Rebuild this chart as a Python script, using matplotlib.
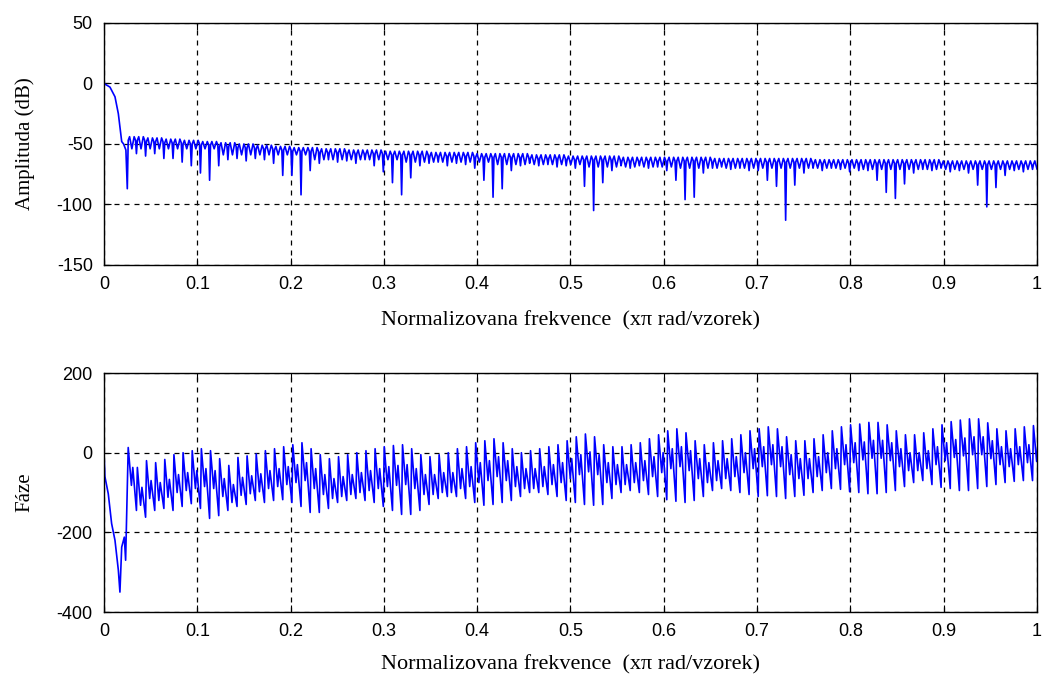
import numpy as np
import matplotlib
matplotlib.use("Agg")
import matplotlib.pyplot as plt

plt.rcParams["axes.unicode_minus"] = False

MAIN_F = [0.0, 0.0064, 0.0118, 0.0154, 0.0171, 0.019, 0.021, 0.0235]
MAIN_DB = [0, -3, -11, -25, -36, -48, -50, -55]

# sidelobes: first notch and spacing between notches
LOBE_F0 = 0.025
LOBE_STEP = 0.0098

# level of the two bumps in each sidelobe (dB)
AMP_PEAK = [
    -44, -44, -45, -45, -46, -46, -47, -47, -48, -48,
    -49, -49, -50, -50, -51, -51, -52, -52, -53, -53,
    -53, -54, -54, -54, -55, -55, -55, -55, -56, -56,
    -56, -56, -56, -57, -57, -57, -57, -57, -58, -58,
    -58, -58, -58, -58, -59, -59, -59, -59, -60, -60,
    -60, -60, -60, -60, -61, -61, -61, -61, -61, -61,
    -61, -61, -61, -61, -62, -62, -62, -62, -62, -62,
    -62, -62, -62, -62, -62, -63, -63, -63, -63, -63,
    -63, -63, -63, -63, -63, -63, -63, -63, -63, -64,
    -64, -64, -64, -64, -64, -64, -64, -64, -64, -64,
]
# depth of the notch that opens each sidelobe (dB)
AMP_NOTCH = [
    -87, -58, -60, -58, -62, -62, -65, -68, -74, -80,
    -68, -63, -62, -64, -62, -63, -66, -76, -76, -92,
    -72, -66, -63, -65, -64, -66, -63, -68, -73, -82,
    -92, -78, -68, -66, -65, -68, -66, -67, -70, -80,
    -94, -87, -72, -68, -66, -68, -67, -69, -68, -70,
    -85, -105, -82, -72, -68, -70, -68, -70, -69, -72,
    -80, -96, -94, -74, -70, -69, -71, -70, -72, -72,
    -80, -85, -113, -84, -74, -70, -72, -70, -71, -73,
    -72, -72, -80, -90, -95, -83, -74, -71, -72, -70,
    -73, -72, -74, -84, -102, -86, -76, -72, -73, -71,
]
# shallow dip between the two bumps, one value per 0.1 band
AMP_DIP = [-54, -59, -63, -65, -67, -69, -70, -70, -71, -71]

# phase in front of the first notch (degrees)
PH_MAIN_F = [0.0, 0.001, 0.0046, 0.0082, 0.0118, 0.0154, 0.0171, 0.019, 0.0218, 0.0232]
PH_MAIN_DEG = [0, -60, -103, -178, -220, -295, -350, -237, -212, -270]

# phase swing inside each sidelobe (degrees)
PH_TOP = [
    13, -37, -20, -25, -17, -5, 0, 5, 10, 5,
    -15, -32, -12, -8, -3, 5, 10, 15, 20, 25,
    10, -5, -15, -10, -5, 0, 5, 10, 15, 18,
    20, 10, -5, -10, -5, 0, 10, 15, 25, 30,
    35, 25, 10, 0, 5, 10, 15, 20, 30, 40,
    47, 40, 20, 15, 15, 20, 25, 35, 45, 55,
    60, 50, 30, 20, 25, 30, 35, 45, 55, 60,
    65, 60, 40, 30, 30, 35, 45, 55, 65, 70,
    72, 76, 76, 70, 55, 45, 45, 50, 60, 70,
    78, 82, 85, 85, 75, 60, 55, 60, 65, 68,
]
PH_BOTTOM = [
    -145, -162, -145, -140, -145, -135, -128, -140, -165, -158,
    -145, -135, -130, -120, -125, -120, -118, -125, -135, -150,
    -150, -140, -125, -120, -115, -120, -125, -135, -145, -155,
    -155, -145, -130, -115, -110, -110, -115, -125, -132, -130,
    -125, -120, -110, -100, -100, -105, -110, -120, -125, -130,
    -132, -130, -115, -100, -95, -100, -105, -110, -118, -122,
    -125, -120, -110, -95, -90, -95, -100, -105, -110, -108,
    -110, -115, -110, -107, -100, -95, -90, -92, -98, -100,
    -103, -103, -100, -95, -85, -75, -70, -80, -87, -90,
    -95, -95, -90, -85, -80, -75, -72, -70, -70, -72,
]
# small step half way through each sidelobe: how far the phase falls
# from the top before it, and how much it climbs back (per 0.1 band)
PH_MID_FALL = [95, 95, 100, 100, 95, 95, 95, 95, 90, 90]
PH_MID_RISE = [45, 45, 50, 50, 50, 50, 50, 50, 45, 45]

XTICKS = [0, 0.1, 0.2, 0.3, 0.4, 0.5, 0.6, 0.7, 0.8, 0.9, 1]
XTICKLABELS = ["0", "0.1", "0.2", "0.3", "0.4", "0.5", "0.6", "0.7", "0.8", "0.9", "1"]
XLABEL = "Normalizovana frekvence  (xπ rad/vzorek)"


def magnitude_trace():
    f, db = list(MAIN_F), list(MAIN_DB)
    for k, (pk, nt) in enumerate(zip(AMP_PEAK, AMP_NOTCH)):
        fk = LOBE_F0 + k * LOBE_STEP
        dip = AMP_DIP[min(k // 10, len(AMP_DIP) - 1)]
        f += [fk, fk + 0.1 * LOBE_STEP, fk + 0.25 * LOBE_STEP, fk + 0.5 * LOBE_STEP,
              fk + 0.75 * LOBE_STEP, fk + 0.9 * LOBE_STEP]
        db += [nt, pk - 3, pk, dip, pk, pk - 3]
    return np.array(f), np.array(db)


def phase_trace():
    f, deg = list(PH_MAIN_F), list(PH_MAIN_DEG)
    for k, (tp, bt) in enumerate(zip(PH_TOP, PH_BOTTOM)):
        fk = LOBE_F0 + k * LOBE_STEP
        band = min(k // 10, len(PH_MID_FALL) - 1)
        low = max(tp - PH_MID_FALL[band], bt + 10)
        f += [fk + 0.1 * LOBE_STEP, fk + 0.45 * LOBE_STEP,
              fk + 0.6 * LOBE_STEP, fk + LOBE_STEP]
        deg += [tp, low, low + PH_MID_RISE[band], bt]
    return np.array(f), np.array(deg)


def style(ax, ylim, yticks, xpad):
    ax.set_xlim(0, 1)
    ax.set_ylim(*ylim)
    ax.set_xticks(XTICKS)
    ax.set_xticklabels(XTICKLABELS)
    ax.set_yticks(yticks)
    ax.grid(True, color="k", ls=(0, (4, 4)), lw=0.9)
    ax.tick_params(direction="in", length=5, top=True, right=True,
                   labelsize=13, pad=8)
    for lab in ax.get_xticklabels() + ax.get_yticklabels():
        lab.set_family("Liberation Sans")
    for sp in ax.spines.values():
        sp.set_linewidth(1.0)
    ax.set_xlabel(XLABEL, family="Liberation Serif", fontsize=16, labelpad=xpad)


fig = plt.figure(figsize=(10.46, 6.77), dpi=100)

ax1 = fig.add_axes([0.0994, 0.6086, 0.892, 0.3575])
fm, dbm = magnitude_trace()
ax1.plot(fm, dbm, color="#0000ff", lw=1.2)
style(ax1, (-150, 50), [-150, -100, -50, 0, 50], 13)
ax1.set_ylabel("Amplituda (dB)", family="Liberation Serif", fontsize=15, labelpad=16)

ax2 = fig.add_axes([0.0994, 0.0960, 0.892, 0.3530])
fp, dp = phase_trace()
ax2.plot(fp, dp, color="#0000ff", lw=1.2)
style(ax2, (-400, 200), [-400, -200, 0, 200], 11)
ax2.set_ylabel("Fáze", family="Liberation Serif", fontsize=15, labelpad=16)

fig.savefig("out.png", dpi=100)
